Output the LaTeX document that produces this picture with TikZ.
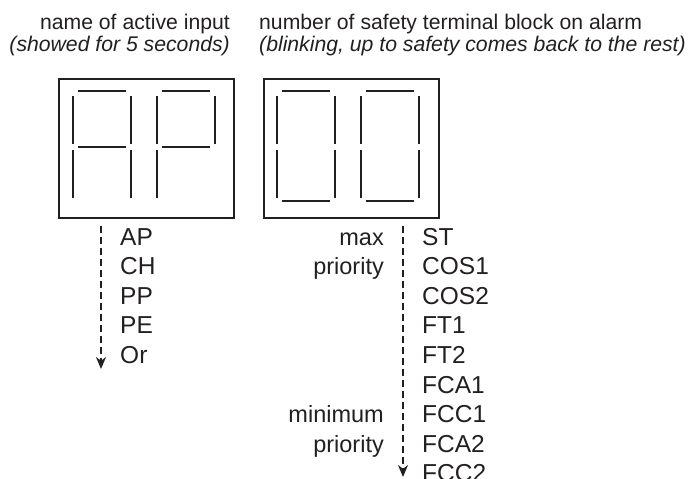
\documentclass[tikz,border=0pt]{standalone}
\usepackage{fontspec}
\setmainfont{Liberation Sans}
\usetikzlibrary{arrows.meta}
\definecolor{ink}{HTML}{231F20}

%% one seven-segment digit: #1 = x of its left edge, #2 = lit segments
\newcommand{\segdigit}[2]{%
  \foreach \s in {#2} {\draw[seg, xshift=#1pt, seg \s];}}

\begin{document}
\begin{tikzpicture}[
  x=1pt, y=-1pt,
  frame/.style={draw=ink, line width=2.3pt, minimum width=175pt, minimum height=139pt,
                anchor=north west, inner sep=0pt},
  seg/.style={draw=ink, line width=2.4pt},
  seg a/.style={insert path={(5,91) -- (53,91)}},
  seg b/.style={insert path={(58,96) -- (58,144)}},
  seg c/.style={insert path={(58,150) -- (58,198)}},
  seg d/.style={insert path={(5,201) -- (53,201)}},
  seg e/.style={insert path={(0,150) -- (0,198)}},
  seg f/.style={insert path={(0,96) -- (0,144)}},
  seg g/.style={insert path={(5,147) -- (53,147)}},
  head/.style={text=ink, inner sep=0pt, font=\fontsize{21.2}{24}\selectfont},
  note/.style={text=ink, inner sep=0pt, font=\fontsize{21.2}{24}\selectfont\itshape},
  item/.style={text=ink, inner sep=0pt, anchor=base west, font=\fontsize{24.5}{29.6}\selectfont},
  prio/.style={text=ink, inner sep=0pt, anchor=base east, font=\fontsize{23.5}{29.6}\selectfont},
  arr/.style={draw=ink, line width=2.3pt, dash pattern=on 7pt off 4pt,
              -{Stealth[length=12pt, width=10pt]}}
]
\useasboundingbox (0,0) rectangle (689,479);

%% --- headings ---
\node[head, anchor=base east] (in-name) at (230,30) {name of active input};
\node[note, anchor=base east] (in-note) at (230,52) {(showed for 5 seconds)};
\node[head, anchor=base west] (blk-name) at (259,30) {number of safety terminal block on alarm};
\node[note, anchor=base west] (blk-note) at (259,52) {(blinking, up to safety comes back to the rest)};

%% --- displays ---
\node[frame] (disp-in) at (58,78) {};
\node[frame] (disp-blk) at (263,78) {};
\segdigit{73}{a,b,c,e,f,g}
\segdigit{157}{a,b,e,f,g}
\segdigit{277}{a,b,c,d,e,f}
\segdigit{361}{a,b,c,d,e,f}

%% --- active inputs ---
\coordinate (in-top) at (101,226);
\coordinate (in-end) at (101,369);
\draw[arr] (in-top) -- (in-end);
\foreach \t [count=\i from 0] in {AP,CH,PP,PE,Or}
  \node[item] (in-\i) at (120,{245+29.6*\i}) {\t};

%% --- terminal blocks, by priority ---
\coordinate (blk-top) at (403,226);
\coordinate (blk-end) at (403,477);
\draw[arr] (blk-top) -- (blk-end);
\foreach \t [count=\i from 0] in {ST,COS1,COS2,FT1,FT2,FCA1,FCC1,FCA2,FCC2}
  \node[item] (blk-\i) at (422,{245+29.6*\i}) {\t};

\node[prio] (max-1) at (384,245) {max};
\node[prio] (max-2) at (384,274.6) {priority};
\node[prio] (min-1) at (384,422.6) {minimum};
\node[prio] (min-2) at (384,452.2) {priority};
\end{tikzpicture}
\end{document}
